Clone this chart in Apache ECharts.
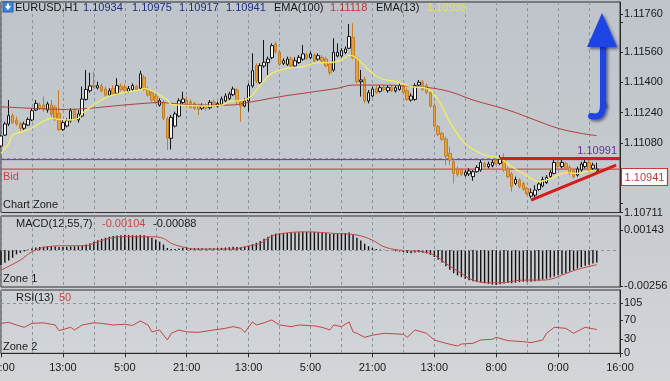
<!DOCTYPE html>
<html><head><meta charset="utf-8">
<script src="https://cdn.jsdelivr.net/npm/echarts@6/dist/echarts.min.js"></script>
<style>html,body{margin:0;padding:0;background:#c8cdd1;overflow:hidden}#c{width:670px;height:381px}</style>
</head><body><div id="c"></div>
<script>
// ---- axis ticks (bar index -> time label) ----
const tickIndex = [0,16,32,48,64,80,96,112,128,144,160];
const tickText  = ['21:00','13:00','5:00','21:00','13:00','5:00','21:00','13:00','8:00','0:00','16:00'];
const barCount = 161;

// ---- price pane ----
const priceMin = 1.10711, priceMax = 1.11826;
const priceLabels = [1.10711,1.10920,1.11080,1.11240,1.11400,1.11560,1.11760];
const priceGridLevels = [1.10760,1.10920,1.11080,1.11240,1.11400,1.11560,1.11720];
const bidPrice = 1.10941;
const levelPrice = 1.10991;

const opens = [1.11063,1.11121,1.11180,1.11224,1.11201,1.11183,1.11157,1.11174,1.11201,1.11254,
1.11280,1.11280,1.11254,1.11280,1.11268,1.11236,1.11151,1.11169,1.11197,1.11250,
1.11201,1.11222,1.11310,1.11356,1.11385,1.11371,1.11381,1.11365,1.11333,1.11369,
1.11342,1.11381,1.11374,1.11353,1.11363,1.11378,1.11369,1.11427,1.11363,1.11346,
1.11328,1.11280,1.11295,1.11206,1.11104,1.11169,1.11222,1.11293,1.11307,1.11298,
1.11289,1.11279,1.11263,1.11279,1.11266,1.11296,1.11273,1.11284,1.11302,1.11314,
1.11335,1.11360,1.11298,1.11275,1.11302,1.11381,1.11489,1.11399,1.11487,1.11505,
1.11531,1.11604,1.11560,1.11501,1.11496,1.11524,1.11487,1.11505,1.11523,1.11545,
1.11531,1.11545,1.11523,1.11533,1.11524,1.11498,1.11466,1.11540,1.11540,1.11558,
1.11581,1.11639,1.11528,1.11404,1.11416,1.11302,1.11328,1.11367,1.11353,1.11374,
1.11356,1.11374,1.11355,1.11363,1.11378,1.11356,1.11307,1.11310,1.11386,1.11401,
1.11383,1.11348,1.11277,1.11166,1.11130,1.11100,1.11024,1.10980,1.10941,1.10936,
1.10909,1.10915,1.10901,1.10927,1.10936,1.10971,1.10954,1.10959,1.10989,1.10971,
1.10994,1.10941,1.10915,1.10865,1.10883,1.10865,1.10839,1.10798,1.10803,1.10833,
1.10851,1.10869,1.10901,1.10918,1.10976,1.10954,1.10971,1.10950,1.10932,1.10909,
1.10936,1.10954,1.10976,1.10945,1.10934];
const closes = [1.11116,1.11180,1.11224,1.11187,1.11180,1.11157,1.11180,1.11204,1.11250,1.11289,
1.11263,1.11257,1.11286,1.11231,1.11204,1.11151,1.11187,1.11197,1.11250,1.11204,
1.11233,1.11312,1.11363,1.11381,1.11378,1.11383,1.11355,1.11333,1.11356,1.11342,
1.11383,1.11363,1.11360,1.11367,1.11383,1.11363,1.11445,1.11363,1.11333,1.11307,
1.11293,1.11303,1.11210,1.11104,1.11215,1.11233,1.11303,1.11312,1.11275,1.11268,
1.11263,1.11257,1.11277,1.11265,1.11295,1.11275,1.11288,1.11312,1.11328,1.11339,
1.11365,1.11302,1.11275,1.11302,1.11383,1.11462,1.11408,1.11489,1.11507,1.11524,
1.11595,1.11563,1.11496,1.11515,1.11524,1.11487,1.11515,1.11533,1.11551,1.11528,
1.11551,1.11514,1.11542,1.11514,1.11487,1.11452,1.11560,1.11560,1.11568,1.11577,
1.11643,1.11531,1.11404,1.11413,1.11302,1.11346,1.11365,1.11346,1.11372,1.11363,
1.11374,1.11356,1.11372,1.11383,1.11346,1.11310,1.11328,1.11383,1.11401,1.11363,
1.11346,1.11275,1.11169,1.11125,1.11098,1.11010,1.10989,1.10918,1.10913,1.10913,
1.10925,1.10931,1.10927,1.10950,1.10976,1.10954,1.10968,1.10976,1.10971,1.10994,
1.10936,1.10901,1.10848,1.10886,1.10848,1.10833,1.10812,1.10816,1.10830,1.10862,
1.10886,1.10897,1.10923,1.10976,1.10957,1.10976,1.10945,1.10918,1.10901,1.10941,
1.10968,1.10976,1.10936,1.10962,1.10941];
const lows = [1.11056,1.11116,1.11169,1.11180,1.11169,1.11139,1.11148,1.11169,1.11195,1.11249,
1.11254,1.11245,1.11240,1.11219,1.11195,1.11143,1.11143,1.11162,1.11187,1.11197,
1.11187,1.11215,1.11303,1.11346,1.11369,1.11363,1.11346,1.11325,1.11328,1.11333,
1.11335,1.11353,1.11351,1.11346,1.11356,1.11356,1.11363,1.11356,1.11325,1.11298,
1.11286,1.11272,1.11201,1.11042,1.11045,1.11162,1.11215,1.11286,1.11268,1.11261,
1.11254,1.11227,1.11254,1.11250,1.11257,1.11268,1.11266,1.11275,1.11295,1.11307,
1.11328,1.11280,1.11192,1.11268,1.11245,1.11372,1.11395,1.11392,1.11478,1.11439,
1.11523,1.11554,1.11487,1.11492,1.11487,1.11478,1.11480,1.11498,1.11515,1.11519,
1.11523,1.11505,1.11515,1.11505,1.11480,1.11439,1.11457,1.11533,1.11533,1.11551,
1.11576,1.11523,1.11395,1.11325,1.11289,1.11289,1.11321,1.11339,1.11346,1.11355,
1.11346,1.11349,1.11346,1.11356,1.11339,1.11303,1.11298,1.11303,1.11378,1.11355,
1.11337,1.11266,1.11162,1.11116,1.11091,1.10962,1.10962,1.10865,1.10901,1.10904,
1.10901,1.10904,1.10879,1.10922,1.10927,1.10945,1.10945,1.10950,1.10962,1.10962,
1.10927,1.10892,1.10821,1.10856,1.10839,1.10826,1.10803,1.10786,1.10777,1.10826,
1.10844,1.10862,1.10892,1.10913,1.10948,1.10945,1.10936,1.10909,1.10892,1.10901,
1.10927,1.10945,1.10927,1.10936,1.10917];
const highs = [1.11121,1.11192,1.11307,1.11236,1.11219,1.11192,1.11192,1.11215,1.11263,1.11307,
1.11293,1.11325,1.11298,1.11307,1.11280,1.11360,1.11201,1.11210,1.11263,1.11263,
1.11254,1.11378,1.11466,1.11452,1.11457,1.11404,1.11395,1.11378,1.11369,1.11386,
1.11422,1.11395,1.11392,1.11381,1.11395,1.11386,1.11462,1.11439,1.11378,1.11360,
1.11342,1.11316,1.11307,1.11219,1.11227,1.11245,1.11316,1.11351,1.11325,1.11310,
1.11298,1.11289,1.11289,1.11289,1.11307,1.11310,1.11298,1.11325,1.11342,1.11351,
1.11378,1.11369,1.11307,1.11316,1.11395,1.11554,1.11501,1.11501,1.11625,1.11537,
1.11607,1.11616,1.11572,1.11528,1.11537,1.11537,1.11533,1.11545,1.11598,1.11558,
1.11563,1.11554,1.11554,1.11545,1.11537,1.11510,1.11634,1.11607,1.11581,1.11590,
1.11710,1.11713,1.11537,1.11466,1.11431,1.11360,1.11378,1.11381,1.11386,1.11386,
1.11386,1.11386,1.11385,1.11395,1.11386,1.11369,1.11342,1.11395,1.11413,1.11413,
1.11395,1.11360,1.11289,1.11174,1.11139,1.11113,1.11060,1.10998,1.10954,1.10945,
1.10936,1.10945,1.10936,1.10962,1.10989,1.10980,1.10980,1.10989,1.11001,1.11015,
1.11024,1.10954,1.10927,1.10901,1.10892,1.10874,1.10848,1.10839,1.10856,1.10874,
1.10901,1.10909,1.10936,1.10989,1.10989,1.10989,1.10980,1.10962,1.10945,1.10954,
1.10980,1.10992,1.10989,1.10975,1.10975];

// EMA lines: [bar index, price]
const ema13 = [[0,1.11024],[2,1.11077],[3,1.11121],[7,1.11148],[10,1.11183],[13,1.11210],[15,1.11204],[18,1.11201],[20,1.11210],[21,1.11236],[23,1.11268],[26,1.11307],[28,1.11328],[32,1.11346],[36,1.11360],[37,1.11369],[39,1.11356],[41,1.11333],[43,1.11307],[44,1.11284],[46,1.11280],[50,1.11277],[53,1.11275],[57,1.11280],[59,1.11298],[63,1.11307],[65,1.11333],[67,1.11386],[70,1.11448],[74,1.11475],[78,1.11483],[82,1.11505],[85,1.11505],[88,1.11519],[90,1.11545],[92,1.11528],[95,1.11466],[98,1.11422],[102,1.11404],[106,1.11378],[110,1.11369],[113,1.11307],[116,1.11190],[120,1.11077],[125,1.11015],[129,1.10998],[132,1.10953],[137,1.10892],[139,1.10874],[141,1.10883],[144,1.10909],[146,1.10922],[149,1.10918],[151,1.10927],[154,1.10936]];
const ema100 = [[0,1.11271],[8,1.11263],[17,1.11257],[23,1.11263],[29,1.11275],[37,1.11289],[41,1.11293],[46,1.11286],[51,1.11280],[59,1.11280],[65,1.11298],[72,1.11324],[81,1.11351],[87,1.11369],[91,1.11386],[98,1.11386],[105,1.11381],[110,1.11374],[116,1.11351],[122,1.11307],[131,1.11254],[138,1.11201],[144,1.11157],[150,1.11130],[154,1.11118]];

// ---- MACD pane ----
const macdMin = -0.00263, macdMax = 0.00243;
const macdLabels = [-0.00256, 0.00143];
const macdHist = [-0.00107,-0.00090,-0.00075,-0.00055,-0.00030,-0.00020,-0.00010,0.00005,0.00012,0.00018,
0.00022,0.00025,0.00027,0.00028,0.00026,0.00022,0.00022,0.00024,0.00026,0.00027,
0.00028,0.00032,0.00040,0.00048,0.00059,0.00070,0.00080,0.00088,0.00095,0.00100,
0.00104,0.00106,0.00107,0.00107,0.00106,0.00105,0.00108,0.00106,0.00098,0.00088,
0.00076,0.00060,0.00040,0.00015,0.00008,0.00008,0.00012,0.00016,0.00016,0.00015,
0.00014,0.00013,0.00013,0.00012,0.00013,0.00014,0.00014,0.00016,0.00018,0.00020,
0.00023,0.00022,0.00020,0.00022,0.00030,0.00042,0.00052,0.00065,0.00080,0.00095,
0.00110,0.00118,0.00118,0.00120,0.00122,0.00123,0.00125,0.00127,0.00130,0.00130,
0.00130,0.00129,0.00128,0.00126,0.00122,0.00115,0.00116,0.00118,0.00120,0.00121,
0.00125,0.00110,0.00088,0.00068,0.00045,0.00028,0.00015,0.00008,0.00005,0.00003,
-0.00002,-0.00006,-0.00008,-0.00010,-0.00014,-0.00020,-0.00022,-0.00018,-0.00015,-0.00018,
-0.00024,-0.00034,-0.00050,-0.00068,-0.00088,-0.00115,-0.00140,-0.00165,-0.00180,-0.00192,
-0.00205,-0.00215,-0.00222,-0.00228,-0.00230,-0.00236,-0.00240,-0.00246,-0.00248,-0.00244,
-0.00238,-0.00235,-0.00236,-0.00232,-0.00228,-0.00226,-0.00226,-0.00225,-0.00222,-0.00216,
-0.00210,-0.00204,-0.00196,-0.00188,-0.00180,-0.00172,-0.00163,-0.00152,-0.00142,-0.00132,
-0.00122,-0.00112,-0.00104,-0.00095,-0.00088];
const macdSignal = [[0,-0.00143],[5,-0.00071],[8,-0.00012],[12,0.00024],[17,0.00031],[22,0.00031],[24,0.00048],[27,0.00076],[31,0.00095],[39,0.00095],[42,0.00083],[44,0.00048],[48,0.00016],[51,0.00007],[60,0.00007],[63,0.00024],[67,0.00048],[70,0.00100],[74,0.00123],[79,0.00130],[86,0.00119],[92,0.00107],[96,0.00071],[99,0.00024],[103,0.00000],[109,-0.00012],[112,-0.00036],[115,-0.00095],[119,-0.00166],[122,-0.00214],[126,-0.00233],[129,-0.00233],[135,-0.00214],[140,-0.00214],[143,-0.00200],[145,-0.00178],[149,-0.00138],[154,-0.00104]];

// ---- RSI pane ----
const rsiMin = 0, rsiMax = 133;
const rsiLabels = [0,30,70,105];
const rsi = [[0,63],[2,65],[4,59.5],[6,54.6],[8,63],[11,64],[14,59.5],[15,47.5],[18,54.6],[19,49],[21,59.5],[24,64],[26,63],[29,59.5],[32,61],[34,58.5],[36,68],[38,59.5],[39,45],[41,49],[43,28],[44,42],[46,49],[48,45],[51,44],[55,49],[58,52.5],[60,56],[62,52.5],[63,44],[65,66],[66,59.5],[68,64],[70,70],[72,59.5],[75,56],[77,59.5],[81,57.6],[83,54.6],[85,49],[86,59.5],[88,56],[90,66],[91,45],[92,42],[94,33.6],[96,38],[99,42],[104,40],[105,33.6],[107,49],[110,42],[112,28],[115,21],[118,15.3],[119,19.5],[122,21],[124,28],[127,29.5],[128,33.6],[131,26.6],[135,24.5],[137,22.4],[140,28],[141,42],[143,54.6],[146,52.5],[148,42],[151,54.6],[154,50]];

// ---- header values ----
const headerOHLC = ['1.10934','1.10975','1.10917','1.10941'];
const ema100Now = '1.11118', ema13Now = '1.10936';
const macdNow = ['-0.00104','-0.00088'];
const rsiNow = '50';

// trend lines drawn by the user: [bar index, price]
const resistance = [[129,1.10998],[160,1.10998]];
const support = [[137,1.10777],[159,1.10962]];

const FONT = '"Liberation Sans", Arial, sans-serif';
const cats = Array.from({length: barCount}, (_, i) => String(i));
const candles = opens.map((o, i) => [o, closes[i], lows[i], highs[i]]);
const fullSpan = v => [[0, v], [barCount - 1, v]];

const gridStyle = {color:'#8b959f', type:[3,3], width:1};
const axisCol = '#2a2a2a';
function xAx(idx, showLabels) {
  return {
    type:'category', gridIndex: idx, data: cats, boundaryGap:false,
    axisLine:{show: showLabels, lineStyle:{color:axisCol}},
    axisTick:{show: showLabels, interval:15, length:4, lineStyle:{color:axisCol}},
    axisLabel:{show: showLabels, interval:15, margin:9, color:'#1a1a1a', fontSize:11, fontFamily:FONT,
      showMinLabel:true, showMaxLabel:true, hideOverlap:false,
      formatter:(v, i) => { const k = tickIndex.indexOf(i); return k >= 0 ? tickText[k] : ''; }},
    splitLine:{show:true, interval:7, lineStyle:gridStyle}
  };
}
function yAx(idx, min, max, labels, ticks, fmt) {
  return {
    type:'value', gridIndex: idx, position:'right', min, max,
    splitLine:{show:false},
    axisLine:{show:true, lineStyle:{color:axisCol}},
    axisTick:{show:true, length:3, customValues: ticks, lineStyle:{color:axisCol}},
    axisLabel:{customValues: labels, formatter: fmt, margin:4, color:'#1a1a1a', fontSize:11, fontFamily:FONT}
  };
}
const hLine = (v, style) => ({yAxis: v, lineStyle: style});
const gridBase = {left:1, right:50, show:true, borderColor:'#2e2e2e', borderWidth:1,
  backgroundColor:'transparent', containLabel:false, outerBoundsMode:'none'};

const txt = (t, x, y, fill, align) => ({type:'text', z:100, silent:true,
  style:{text:t, x, y, fill, font:'11px ' + FONT, verticalAlign:'middle', align: align || 'left'}});

const option = {
  animation:false,
  backgroundColor: new echarts.graphic.LinearGradient(0,0,0,1,[
    {offset:0, color:'#bec4ca'},{offset:0.6, color:'#c8ccd0'},{offset:1, color:'#d3d6d9'}]),
  grid:[
    Object.assign({top:2, height:210.5}, gridBase),
    Object.assign({top:216, height:71}, gridBase),
    Object.assign({top:290, height:63.3}, gridBase)
  ],
  xAxis:[xAx(0,false), xAx(1,false), xAx(2,true)],
  yAxis:[
    yAx(0, priceMin, priceMax, priceLabels, priceLabels.concat([1.10760,1.11720]), v => v.toFixed(5)),
    yAx(1, macdMin, macdMax, macdLabels, macdLabels, v => v.toFixed(5)),
    yAx(2, rsiMin, rsiMax, rsiLabels, rsiLabels, v => String(v))
  ],
  series:[
    { type:'line', xAxisIndex:0, yAxisIndex:0, data:[], z:1, silent:true,
      markLine:{silent:true, symbol:['none','none'], label:{show:false}, animation:false,
        data: priceGridLevels.map(v => hLine(v, gridStyle))}},
    { name:'level', type:'line', xAxisIndex:0, yAxisIndex:0, data: fullSpan(levelPrice), z:2, silent:true,
      symbol:'none', lineStyle:{color:'#6a2ea6', width:1} },
    { name:'bid', type:'line', xAxisIndex:0, yAxisIndex:0, data: fullSpan(bidPrice), z:2, silent:true,
      symbol:'none', lineStyle:{color:'#cf4b4b', width:1.2} },
    { type:'candlestick', xAxisIndex:0, yAxisIndex:0, data:candles, barWidth:3, z:3,
      itemStyle:{color:'#f6f6f6', color0:'#e6a03a', borderColor:'#151515', borderColor0:'#c07f28', borderWidth:1},
      markLine:{silent:true, symbol:['none','none'], label:{show:false}, animation:false,
        lineStyle:{color:'#d41c1c', width:3, type:'solid'},
        data:[
          [{coord:resistance[0]},{coord:resistance[1]}],
          [{coord:support[0]},{coord:support[1]}]
        ]}},
    { type:'line', xAxisIndex:0, yAxisIndex:0, data:ema100, smooth:0.4, symbol:'none', z:4,
      lineStyle:{color:'#b23c3c', width:1} },
    { type:'line', xAxisIndex:0, yAxisIndex:0, data:ema13, smooth:0.4, symbol:'none', z:4,
      lineStyle:{color:'#f2ef5a', width:1.3} },
    { type:'bar', xAxisIndex:1, yAxisIndex:1, data:macdHist, barWidth:1.4, z:3,
      itemStyle:{color:'#121212'} },
    { type:'line', xAxisIndex:1, yAxisIndex:1, data:macdSignal, smooth:0.4, symbol:'none', z:4,
      lineStyle:{color:'#c24646', width:1},
      markLine:{silent:true, symbol:['none','none'], label:{show:false}, animation:false,
        data:[hLine(macdLabels[1], gridStyle)]}},
    { type:'line', xAxisIndex:2, yAxisIndex:2, data:rsi, symbol:'none', z:4,
      lineStyle:{color:'#c24646', width:1},
      markLine:{silent:true, symbol:['none','none'], label:{show:false}, animation:false,
        data:[hLine(rsiLabels[3], gridStyle)]}}
  ],
  graphic:[
    // header
    {type:'rect', z:100, silent:true, shape:{x:3, y:2, width:10, height:10}, style:{fill:'#3f86da', stroke:'#2a5fa8'}},
    {type:'polygon', z:101, silent:true, shape:{points:[[5,6],[11,6],[8,10]]}, style:{fill:'#ffffff'}},
    {type:'rect', z:101, silent:true, shape:{x:7, y:3.5, width:2, height:3}, style:{fill:'#ffffff'}},
    txt('EURUSD,H1', 15, 8, '#151515'),
    txt(headerOHLC[0], 83, 8, '#1f2c86'),
    txt(headerOHLC[1], 132, 8, '#1f2c86'),
    txt(headerOHLC[2], 179, 8, '#1f2c86'),
    txt(headerOHLC[3], 226, 8, '#1f2c86'),
    txt('EMA(100)', 274, 8, '#151515'),
    txt(ema100Now, 330, 8, '#b83a3a'),
    txt('EMA(13)', 376, 8, '#151515'),
    txt(ema13Now, 427, 8, '#e6e24a'),
    // pane labels
    txt('Bid', 3, 177, '#cc4444'),
    txt('Chart Zone', 3, 205, '#1a1a1a'),
    txt('MACD(12,55,7)', 16, 224, '#1a1a1a'),
    txt(macdNow[0], 102, 224, '#c84646'),
    txt(macdNow[1], 153, 224, '#1a1a1a'),
    txt('Zone 1', 3, 279, '#1a1a1a'),
    txt('RSI(13)', 16, 298, '#1a1a1a'),
    txt(rsiNow, 59, 298, '#c84646'),
    txt('Zone 2', 3, 347, '#1a1a1a'),
    // level label
    txt('1.10991', 617, 151, '#6a2ea6', 'right'),
    // bid price box
    {type:'rect', z:100, silent:true, shape:{x:621.5, y:168.5, width:46, height:17}, style:{fill:'#ffffff', stroke:'#c83a3a', lineWidth:1.2}},
    txt('1.10941', 644.5, 177.5, '#c83a3a', 'center'),
    // blue arrow
    {type:'polyline', z:100, silent:true, shape:{points:[[603,44],[603,106]]},
      style:{stroke:'#1d45e6', lineWidth:6, fill:null, shadowColor:'rgba(10,20,70,0.55)', shadowBlur:3, shadowOffsetX:2, shadowOffsetY:2}},
    {type:'bezierCurve', z:100, silent:true, shape:{x1:603, y1:105, cpx1:603, cpy1:119, x2:591, y2:116},
      style:{stroke:'#1d45e6', lineWidth:6, fill:null, lineCap:'round', shadowColor:'rgba(10,20,70,0.55)', shadowBlur:3, shadowOffsetX:2, shadowOffsetY:2}},
    {type:'polygon', z:101, silent:true, shape:{points:[[602,13],[587,47],[617,47]]},
      style:{fill:'#1d45e6', shadowColor:'rgba(10,20,70,0.55)', shadowBlur:3, shadowOffsetX:2, shadowOffsetY:2}}
  ]
};
const chart = echarts.init(document.getElementById('c'), null, {renderer:'canvas', width:670, height:381});
chart.setOption(option);
</script>
</body></html>
